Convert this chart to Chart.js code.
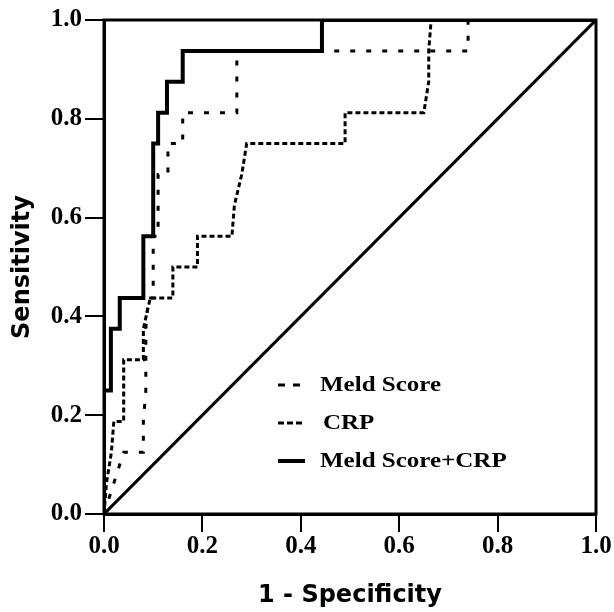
<!DOCTYPE html>
<html>
<head>
<meta charset="utf-8">
<script src="https://cdn.jsdelivr.net/npm/chart.js@4.4.0/dist/chart.umd.min.js"></script>
<style>
  html, body { margin: 0; padding: 0; background: #fff; }
  #wrap { width: 614px; height: 612px; }
</style>
</head>
<body>
<div id="wrap"><canvas id="rocChart" width="614" height="612"></canvas></div>
<script>
// ROC curves (x = 1 - specificity, y = sensitivity)
const meldX = [0, 0.02, 0.04, 0.08, 0.08, 0.085, 0.085, 0.09, 0.10, 0.10, 0.11, 0.11, 0.13, 0.13, 0.16, 0.16, 0.27, 0.27, 0.74, 0.74, 1];
const meldY = [0, 0.0625, 0.125, 0.125, 0.1875, 0.25, 0.375, 0.4375, 0.4375, 0.5625, 0.5625, 0.6875, 0.6875, 0.75, 0.75, 0.8125, 0.8125, 0.9375, 0.9375, 1, 1];

const crpX = [0, 0.005, 0.015, 0.02, 0.04, 0.04, 0.08, 0.08, 0.094, 0.14, 0.14, 0.19, 0.19, 0.26, 0.265, 0.28, 0.29, 0.49, 0.49, 0.65, 0.66, 0.66, 0.665, 1];
const crpY = [0, 0.0625, 0.125, 0.1875, 0.1875, 0.3125, 0.3125, 0.375, 0.4375, 0.4375, 0.5, 0.5, 0.5625, 0.5625, 0.625, 0.6875, 0.75, 0.75, 0.8125, 0.8125, 0.875, 0.9375, 1, 1];

const comboX = [0, 0, 0.014, 0.014, 0.032, 0.032, 0.08, 0.08, 0.10, 0.10, 0.11, 0.11, 0.128, 0.128, 0.16, 0.16, 0.443, 0.443, 1];
const comboY = [0, 0.25, 0.25, 0.375, 0.375, 0.4375, 0.4375, 0.5625, 0.5625, 0.75, 0.75, 0.8125, 0.8125, 0.875, 0.875, 0.9375, 0.9375, 1, 1];

const refX = [0, 1];
const refY = [0, 1];

const tickValues = [0, 0.2, 0.4, 0.6, 0.8, 1.0];

function toPoints(xs, ys) {
    let pts = [];
    for (let i = 0; i < xs.length; i++) {
        pts.push({x: xs[i], y: ys[i]});
    }
    return pts;
}

// frame round the plot area (top and right sides too)
const framePlugin = {
    id: 'frame',
    afterDatasetsDraw(chart) {
        const a = chart.chartArea;
        const ctx = chart.ctx;
        ctx.save();
        ctx.strokeStyle = '#000';
        ctx.lineWidth = 3;
        ctx.setLineDash([]);
        ctx.strokeRect(a.left, a.top, a.right - a.left, a.bottom - a.top);
        ctx.restore();
    }
};

// legend inside the plot, lower right
// text is stretched sideways a bit, like the original
const innerLegend = {
    id: 'innerLegend',
    afterDraw(chart) {
        const ctx = chart.ctx;
        const items = chart.data.datasets.filter(d => d.label);
        const rows = [385, 423, 461];
        ctx.save();
        items.forEach((d, i) => {
            let y = rows[i];
            ctx.strokeStyle = '#000';
            ctx.lineWidth = d.borderWidth;
            ctx.setLineDash(d.legendDash || []);
            ctx.beginPath();
            ctx.moveTo(278, y);
            ctx.lineTo(305, y);
            ctx.stroke();
            ctx.setLineDash([]);
            ctx.fillStyle = '#000';
            ctx.font = 'bold 20px "Liberation Serif"';
            ctx.textBaseline = 'middle';
            let tx = d.label === 'CRP' ? 323 : 320;
            ctx.save();
            ctx.translate(tx, y);
            ctx.scale(1.25, 1);
            ctx.fillText(d.label, 0, 1);
            ctx.restore();
        });
        ctx.restore();
    }
};

const ctx = document.getElementById('rocChart');

const rocChart = new Chart(ctx, {
    type: 'scatter',
    data: {
        datasets: [
            {
                label: 'Meld Score',
                data: toPoints(meldX, meldY),
                borderColor: '#000',
                borderWidth: 3,
                borderDash: [5, 11],
                legendDash: [7, 8],
                showLine: true,
                pointRadius: 0
            },
            {
                label: 'CRP',
                data: toPoints(crpX, crpY),
                borderColor: '#000',
                borderWidth: 3,
                borderDash: [5, 3],
                legendDash: [6, 3],
                showLine: true,
                pointRadius: 0
            },
            {
                label: 'Meld Score+CRP',
                data: toPoints(comboX, comboY),
                borderColor: '#000',
                borderWidth: 4,
                showLine: true,
                pointRadius: 0
            },
            {
                label: '',
                data: toPoints(refX, refY),
                borderColor: '#000',
                borderWidth: 3,
                showLine: true,
                pointRadius: 0
            }
        ]
    },
    options: {
        responsive: false,
        animation: false,
        layout: {
            padding: {top: 20, right: 18, bottom: 0, left: 0}
        },
        plugins: {
            legend: {display: false},
            tooltip: {enabled: false}
        },
        scales: {
            x: {
                type: 'linear',
                min: 0,
                max: 1,
                afterBuildTicks: (scale) => { scale.ticks = tickValues.map(v => ({value: v})); },
                afterFit: (scale) => { scale.height = 98; },
                border: {display: true, color: '#000', width: 3},
                grid: {drawOnChartArea: false, drawTicks: true, tickLength: 18, color: '#000', lineWidth: 2},
                ticks: {
                    color: '#000',
                    padding: 0,
                    font: {family: '"Liberation Serif"', weight: 'bold', size: 25},
                    callback: (v) => v.toFixed(1)
                },
                title: {
                    display: true,
                    text: '1 - Specificity',
                    color: '#000',
                    font: {family: '"DejaVu Sans"', weight: 'bold', size: 24},
                    padding: {top: 0, bottom: 2}
                }
            },
            y: {
                type: 'linear',
                min: 0,
                max: 1,
                afterBuildTicks: (scale) => { scale.ticks = tickValues.map(v => ({value: v})); },
                afterFit: (scale) => { scale.width = 104; },
                border: {display: true, color: '#000', width: 3},
                grid: {drawOnChartArea: false, drawTicks: true, tickLength: 19, color: '#000', lineWidth: 2},
                ticks: {
                    color: '#000',
                    padding: 3,
                    font: {family: '"Liberation Serif"', weight: 'bold', size: 25},
                    callback: (v) => v.toFixed(1)
                },
                title: {
                    display: true,
                    text: 'Sensitivity',
                    color: '#000',
                    font: {family: '"DejaVu Sans"', weight: 'bold', size: 24},
                    padding: {top: 8, bottom: 0}
                }
            }
        }
    },
    plugins: [framePlugin, innerLegend]
});
</script>
</body>
</html>
